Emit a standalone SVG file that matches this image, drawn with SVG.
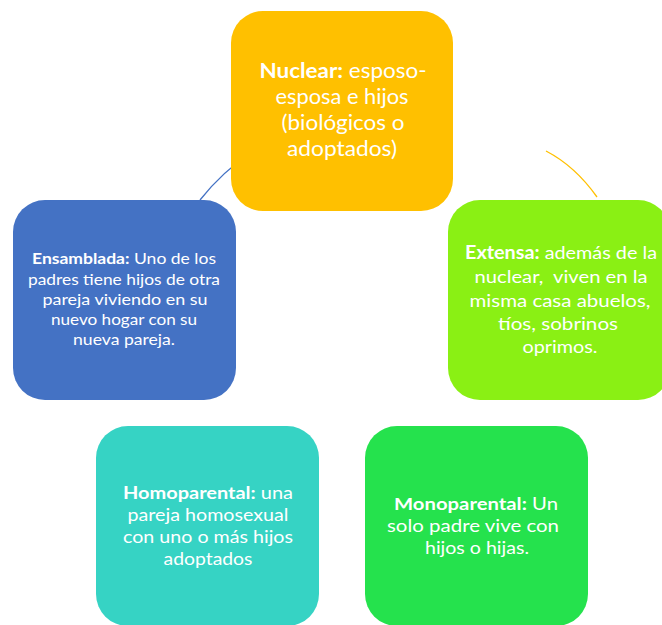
<svg xmlns="http://www.w3.org/2000/svg" width="662" height="625" viewBox="0 0 662 625">
<style>
text{font-family:Lato,"Open Sans",sans-serif;fill:#fff;text-anchor:middle}
.b{font-weight:bold}
.conn{fill:none;stroke-width:1.3}
</style>
<rect width="662" height="625" fill="#fff"/>
<g id="connectors">
<path class="conn" stroke="#4472C4" d="M200,200 Q222,172 253,151"/>
<path class="conn" stroke="#FFC000" d="M546,151 Q575,166 597,197"/>
</g>
<g id="nuclear">
<rect x="231" y="11" width="222" height="200" rx="32" fill="#FFC000"/>
<g font-size="21.5">
<text x="343" y="78" textLength="167" lengthAdjust="spacingAndGlyphs"><tspan class="b">Nuclear:</tspan> esposo-</text>
<text x="342" y="104" textLength="133" lengthAdjust="spacingAndGlyphs">esposa e hijos</text>
<text x="343" y="130" textLength="123" lengthAdjust="spacingAndGlyphs">(biológicos o</text>
<text x="342" y="156" textLength="110" lengthAdjust="spacingAndGlyphs">adoptados)</text>
</g>
</g>
<g id="extensa">
<rect x="448" y="200" width="222" height="200" rx="32" fill="#8AF014"/>
<g font-size="18">
<text x="561" y="259" textLength="192" lengthAdjust="spacingAndGlyphs"><tspan class="b">Extensa:</tspan> además de la</text>
<text x="561" y="283" textLength="173" lengthAdjust="spacingAndGlyphs">nuclear,&#160; viven en la</text>
<text x="560" y="307" textLength="181" lengthAdjust="spacingAndGlyphs">misma casa abuelos,</text>
<text x="558" y="330" textLength="120" lengthAdjust="spacingAndGlyphs">tíos, sobrinos</text>
<text x="560" y="353" textLength="75" lengthAdjust="spacingAndGlyphs">oprimos.</text>
</g>
</g>
<g id="ensamblada">
<rect x="13" y="200" width="223" height="200" rx="32" fill="#4472C4"/>
<g font-size="15">
<text x="124" y="264" textLength="184" lengthAdjust="spacingAndGlyphs"><tspan class="b">Ensamblada:</tspan> Uno de los</text>
<text x="124" y="285" textLength="192" lengthAdjust="spacingAndGlyphs">padres tiene hijos de otra</text>
<text x="125" y="305" textLength="165" lengthAdjust="spacingAndGlyphs">pareja viviendo en su</text>
<text x="124" y="325" textLength="146" lengthAdjust="spacingAndGlyphs">nuevo hogar con su</text>
<text x="124" y="345" textLength="102" lengthAdjust="spacingAndGlyphs">nueva pareja.</text>
</g>
</g>
<g id="homoparental">
<rect x="96" y="426" width="223" height="200" rx="32" fill="#36D3C4"/>
<g font-size="16.5">
<text x="208" y="499" textLength="170" lengthAdjust="spacingAndGlyphs"><tspan class="b">Homoparental:</tspan> una</text>
<text x="208" y="521" textLength="161" lengthAdjust="spacingAndGlyphs">pareja homosexual</text>
<text x="208" y="543" textLength="170" lengthAdjust="spacingAndGlyphs">con uno o más hijos</text>
<text x="208" y="565" textLength="89" lengthAdjust="spacingAndGlyphs">adoptados</text>
</g>
</g>
<g id="monoparental">
<rect x="365" y="426" width="223" height="200" rx="32" fill="#25E24D"/>
<g font-size="17.5">
<text x="476" y="510" textLength="164" lengthAdjust="spacingAndGlyphs"><tspan class="b">Monoparental:</tspan> Un</text>
<text x="473" y="532" textLength="172" lengthAdjust="spacingAndGlyphs">solo padre vive con</text>
<text x="477" y="554" textLength="104" lengthAdjust="spacingAndGlyphs">hijos o hijas.</text>
</g>
</g>
</svg>
